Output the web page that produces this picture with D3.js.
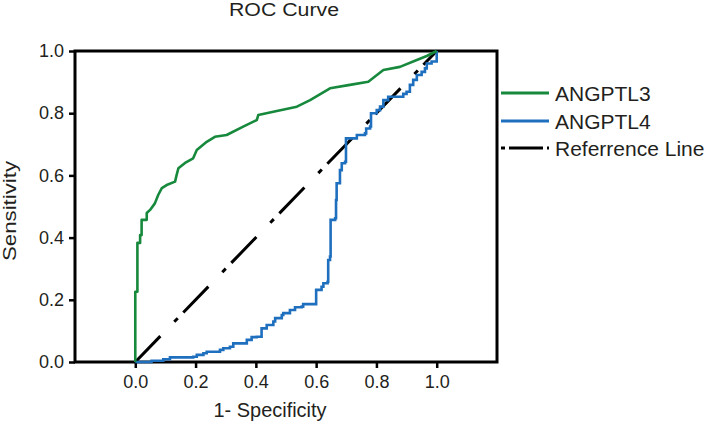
<!DOCTYPE html>
<html>
<head>
<meta charset="utf-8">
<script src="https://cdn.jsdelivr.net/npm/d3@7/dist/d3.min.js"></script>
<style>
  html, body { margin: 0; padding: 0; background: #fff; }
  svg { display: block; }
  text { font-family: Arial, "Liberation Sans", sans-serif; fill: #231f20; }
</style>
</head>
<body>
<svg id="chart" width="709" height="424"></svg>
<script>
// ---- data ----
const seriesNames = ["ANGPTL3", "ANGPTL4", "Referrence Line"];
const xTicks = [0, 0.2, 0.4, 0.6, 0.8, 1.0];
const yTicks = [0, 0.2, 0.4, 0.6, 0.8, 1.0];

// ANGPTL3 (1 - specificity, sensitivity)
const fpr3 = [0, 0, 0.007, 0.007, 0.016, 0.016, 0.021, 0.021, 0.038, 0.038, 0.049, 0.065, 0.076, 0.088, 0.104, 0.132, 0.137, 0.143, 0.165, 0.192, 0.204, 0.237, 0.264, 0.303, 0.358, 0.403, 0.408, 0.458, 0.536, 0.580, 0.646, 0.712, 0.773, 0.823, 0.878, 0.934, 0.967, 1.0];
const tpr3 = [0, 0.226, 0.226, 0.383, 0.383, 0.408, 0.408, 0.457, 0.457, 0.479, 0.489, 0.510, 0.537, 0.559, 0.569, 0.580, 0.601, 0.623, 0.640, 0.655, 0.682, 0.708, 0.724, 0.730, 0.757, 0.778, 0.794, 0.805, 0.821, 0.842, 0.880, 0.891, 0.901, 0.939, 0.949, 0.971, 0.984, 1.0];

// ANGPTL4
const fpr4 = [0, 0.054, 0.093, 0.115, 0.192, 0.204, 0.226, 0.237, 0.281, 0.292, 0.314, 0.325, 0.370, 0.386, 0.403, 0.419, 0.436, 0.458, 0.464, 0.486, 0.491, 0.513, 0.530, 0.552, 0.557, 0.596, 0.600, 0.618, 0.624, 0.638, 0.640, 0.646, 0.648, 0.663, 0.666, 0.668, 0.679, 0.685, 0.696, 0.699, 0.729, 0.735, 0.762, 0.766, 0.779, 0.782, 0.801, 0.812, 0.823, 0.839, 0.867, 0.889, 0.900, 0.911, 0.922, 0.934, 0.950, 0.961, 0.967, 0.983, 1.0, 1.0];
const tpr4 = [0, 0.004, 0.009, 0.015, 0.017, 0.023, 0.028, 0.033, 0.039, 0.044, 0.049, 0.060, 0.071, 0.080, 0.081, 0.108, 0.119, 0.130, 0.141, 0.151, 0.157, 0.167, 0.176, 0.178, 0.186, 0.186, 0.232, 0.242, 0.253, 0.258, 0.328, 0.339, 0.457, 0.462, 0.521, 0.575, 0.617, 0.639, 0.644, 0.719, 0.719, 0.730, 0.735, 0.751, 0.757, 0.800, 0.810, 0.821, 0.842, 0.853, 0.853, 0.862, 0.869, 0.891, 0.907, 0.923, 0.933, 0.944, 0.960, 0.966, 0.977, 1.0];

// Reference line
const refX = [0, 1];
const refY = [0, 1];

const colors = ["#17893c", "#1f6fbf", "#000000"];

// ---- chart ----
const svg = d3.select("#chart");
const x = d3.scaleLinear().domain([-0.2, 1.2]).range([75, 497]);
const y = d3.scaleLinear().domain([0, 1]).range([362, 51]);

const fmt = d3.format(".1f");

// axes
const gx = svg.append("g").attr("transform", `translate(0,${y(0)})`)
  .call(d3.axisBottom(x).tickValues(xTicks).tickFormat(fmt).tickSize(6).tickPadding(7));
const gy = svg.append("g").attr("transform", `translate(${x(-0.2)},0)`)
  .call(d3.axisLeft(y).tickValues(yTicks).tickFormat(fmt).tickSize(6).tickPadding(5));
[gx, gy].forEach(g => {
  g.select(".domain").remove();
  g.selectAll(".tick line").attr("stroke", "#000").attr("stroke-width", 2.5);
  g.selectAll(".tick text").attr("font-size", 18).attr("fill", "#231f20")
    .attr("font-family", "Arial, 'Liberation Sans', sans-serif");
});

// frame
svg.append("rect")
  .attr("x", x(-0.2)).attr("y", y(1))
  .attr("width", x(1.2) - x(-0.2)).attr("height", y(0) - y(1))
  .attr("fill", "none").attr("stroke", "#000").attr("stroke-width", 3);

const line = d3.line().x(d => x(d[0])).y(d => y(d[1]));

// reference line
svg.append("path")
  .datum(d3.zip(refX, refY))
  .attr("d", line)
  .attr("fill", "none").attr("stroke", colors[2]).attr("stroke-width", 3)
  .attr("stroke-dasharray", "36,20,5,8");

// ANGPTL4
svg.append("path")
  .datum(d3.zip(fpr4, tpr4))
  .attr("d", line.curve(d3.curveStepAfter))
  .attr("fill", "none").attr("stroke", colors[1]).attr("stroke-width", 2.6)
  .attr("stroke-linejoin", "miter");

// ANGPTL3
svg.append("path")
  .datum(d3.zip(fpr3, tpr3))
  .attr("d", d3.line().x(d => x(d[0])).y(d => y(d[1])))
  .attr("fill", "none").attr("stroke", colors[0]).attr("stroke-width", 2.6)
  .attr("stroke-linejoin", "round");

// titles
svg.append("text").attr("x", 284).attr("y", 16)
  .attr("text-anchor", "middle").attr("font-size", 18)
  .attr("textLength", 110).attr("lengthAdjust", "spacingAndGlyphs")
  .text("ROC Curve");

svg.append("text").attr("x", 270).attr("y", 417)
  .attr("text-anchor", "middle").attr("font-size", 20)
  .attr("textLength", 113).attr("lengthAdjust", "spacingAndGlyphs")
  .text("1- Specificity");

svg.append("text")
  .attr("transform", "translate(16,211) rotate(-90)")
  .attr("text-anchor", "middle").attr("font-size", 19)
  .attr("textLength", 100).attr("lengthAdjust", "spacingAndGlyphs")
  .text("Sensitivity");

// legend
const legY = [93, 121, 148];
const leg = svg.append("g");
seriesNames.forEach((name, i) => {
  const g = leg.append("g").attr("transform", `translate(0,${legY[i]})`);
  g.append("line").attr("x1", 501).attr("x2", 549).attr("y1", 0).attr("y2", 0)
    .attr("stroke", colors[i]).attr("stroke-width", 3)
    .attr("stroke-dasharray", i === 2 ? "4,4,34,4,4" : null);
  g.append("text").attr("x", 555).attr("y", 7.5)
    .attr("font-size", 21).text(name);
});
</script>
</body>
</html>
